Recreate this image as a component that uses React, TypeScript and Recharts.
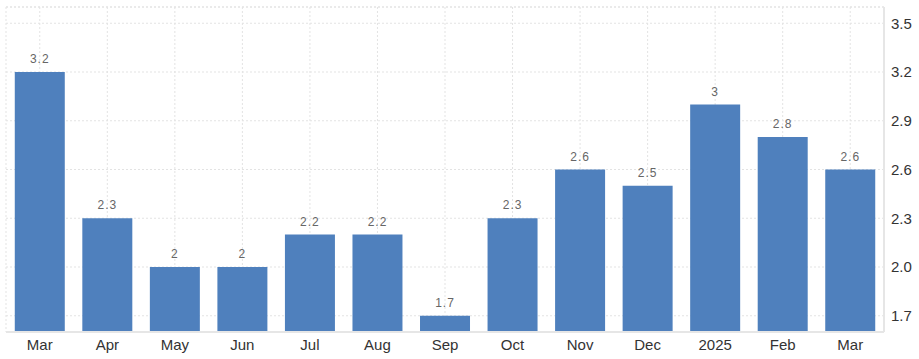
import { BarChart, Bar, XAxis, YAxis, CartesianGrid, LabelList, ReferenceLine } from "recharts";

const months = ["Mar", "Apr", "May", "Jun", "Jul", "Aug", "Sep", "Oct", "Nov", "Dec", "2025", "Feb", "Mar"];
const rates = [3.2, 2.3, 2, 2, 2.2, 2.2, 1.7, 2.3, 2.6, 2.5, 3, 2.8, 2.6];
const yTicks = [1.7, 2.0, 2.3, 2.6, 2.9, 3.2, 3.5];

const data = months.map((m, i) => ({ month: m, rate: rates[i] }));

export default function App() {
  return (
    <div style={{ position: "absolute", left: 0, top: 0, fontFamily: "Arial, 'Liberation Sans', sans-serif" }}>
      <BarChart
        width={919}
        height={359}
        data={data}
        barCategoryGap="13%"
        margin={{ top: 7, right: 0, left: 6, bottom: 0 }}
      >
        <CartesianGrid stroke="#e3e3e3" strokeDasharray="2 2" />
        <ReferenceLine y={3.6} stroke="#e3e3e3" strokeDasharray="2 2" />
        <XAxis
          dataKey="month"
          height={27}
          tick={{ fill: "#333", fontSize: 15 }}
          axisLine={{ stroke: "#e6e6e6", strokeWidth: 2 }}
          tickLine={false}
          tickMargin={1}
        />
        <YAxis
          orientation="right"
          width={35}
          domain={[1.6, 3.6]}
          ticks={yTicks}
          tickFormatter={(v) => v.toFixed(1)}
          tick={{ fill: "#333", fontSize: 15, textAnchor: "start" }}
          axisLine={{ stroke: "#e6e6e6", strokeWidth: 2 }}
          tickLine={false}
          tickMargin={1}
        />
        <Bar dataKey="rate" fill="#4f80bd" isAnimationActive={false}>
          <LabelList dataKey="rate" position="top" offset={9} fill="#666" fontSize={12} letterSpacing={1} />
        </Bar>
      </BarChart>
    </div>
  );
}
